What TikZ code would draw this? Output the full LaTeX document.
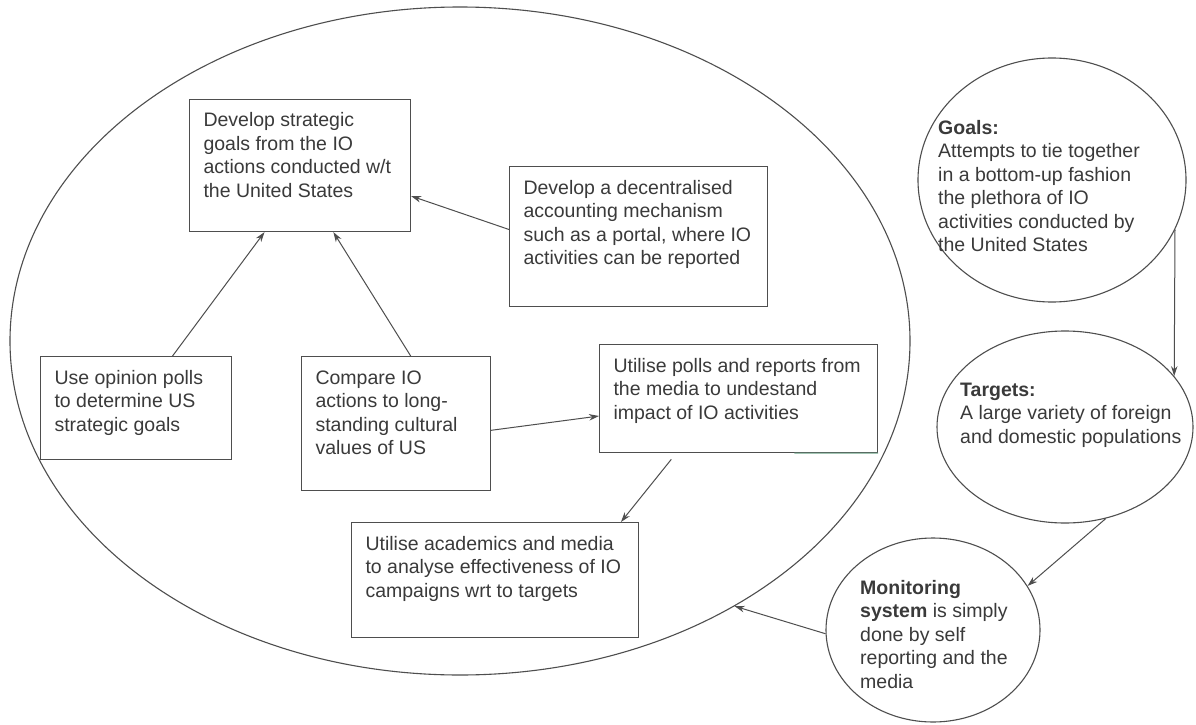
\documentclass[tikz,border=0pt]{standalone}
\usepackage{fontspec}
\setmainfont{Liberation Sans}
\usetikzlibrary{shapes.geometric,arrows.meta,calc}
\definecolor{ink}{HTML}{3A3A3A}
\definecolor{edge}{HTML}{4E4E4E}
\definecolor{tint}{HTML}{6FA58A}
% body of a text box: fixed width and height, text hung from the top
\newcommand\boxbody[3]{\parbox[t][#2][t]{#1}{\raggedright\strut #3}}
\begin{document}
\begin{tikzpicture}[x=1pt,y=-1pt,
  txt/.style={font=\fontsize{19.5}{23.5}\selectfont, text=ink},
  iobox/.style={txt, draw=edge, line width=1.1pt, inner xsep=14pt, inner ysep=11pt, anchor=north west},
  oval/.style={draw=edge, line width=1.1pt, ellipse, inner sep=0pt},
  note/.style={txt, anchor=north west, inner sep=0pt},
  link/.style={draw=edge, line width=1pt, -{Stealth[length=10pt,width=6.5pt]}}]
\useasboundingbox (0,0) rectangle (1196,725);
\fill[white] (0,0) rectangle (1196,725);

% the large enclosing oval
\node[oval, minimum width=900pt, minimum height=668pt] (io) at (460,341) {};

% activity boxes
\node[iobox] (b1) at (189,98.5) {\boxbody{193pt}{110.5pt}{Develop strategic\\goals from the IO\\actions conducted w/t\\the United States}};
\node[iobox] (b2) at (509,166) {\boxbody{230pt}{118pt}{Develop a decentralised\\accounting mechanism\\such as a portal, where IO\\activities can be reported}};
\node[iobox] (b3) at (40,356) {\boxbody{163pt}{81pt}{Use opinion polls\\to determine US\\strategic goals}};
\node[iobox] (b4) at (301,356) {\boxbody{161pt}{112pt}{Compare IO\\actions to long-\\standing cultural\\values of US}};
\node[iobox] (b5) at (599,344) {\boxbody{250pt}{86pt}{Utilise polls and reports from\\the media to undestand\\impact of IO activities}};
\node[iobox] (b6) at (351,522) {\boxbody{259pt}{93pt}{Utilise academics and media\\to analyse effectiveness of IO\\campaigns wrt to targets}};
\draw[tint, line width=1.1pt] ($(b5.south west)!0.7!(b5.south east)$) -- (b5.south east);

% side ovals
\node[oval, minimum width=268pt, minimum height=244pt] (goals) at (1052,180) {};
\node[oval, minimum width=256pt, minimum height=192pt] (targets) at (1065,427) {};
\node[oval, minimum width=214pt, minimum height=184pt] (monitor) at (933,630) {};

\node[note] (goalstext) at (938,117.5) {\parbox[t]{230pt}{\strut\textbf{Goals:}\\Attempts to tie together\\in a bottom-up fashion\\the plethora of IO\\activities conducted by\\the United States}};
\node[note] (targetstext) at (960,379.5) {\parbox[t]{235pt}{\strut\textbf{Targets:}\\A large variety of foreign\\and domestic populations}};
\node[note] (monitortext) at (860,577.5) {\parbox[t]{175pt}{\strut\textbf{Monitoring}\\\textbf{system} is simply\\done by self\\reporting and the\\media}};

% connectors inside the oval
\draw[link] ($(b3.north west)!0.69!(b3.north east)$) -- ($(b1.south west)!0.34!(b1.south east)$);
\draw[link] ($(b4.north west)!0.577!(b4.north east)$) -- ($(b1.south west)!0.65!(b1.south east)$);
\draw[link] ($(b2.north west)!0.45!(b2.south west)$) -- ($(b1.north east)!0.73!(b1.south east)$);
\draw[link] ($(b4.north east)!0.55!(b4.south east)$) -- ($(b5.north west)!0.66!(b5.south west)$);
\draw[link, shorten <=8pt] ($(b5.south west)!0.277!(b5.south east)$) -- ($(b6.north west)!0.937!(b6.north east)$);

% connectors between the side ovals
\draw[link] (goals.-22) -- (targets.25);
\draw[link] (targets.-66.7) -- (monitor.25);
\draw[link] (monitor.182.7) -- (io.-44.5);
\end{tikzpicture}
\end{document}
